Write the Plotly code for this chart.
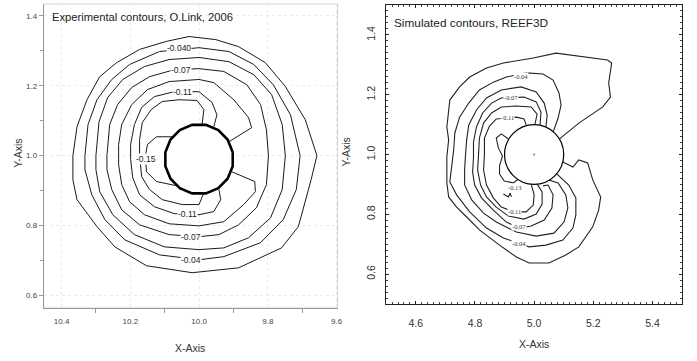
import plotly.graph_objects as go

# ================= LEFT PANEL: experimental contours (O.Link, 2006) =================
# closed rings (outer -> inner)
exp_c1_x = [10.367, 10.355, 10.326, 10.289, 10.240, 10.173, 10.095, 10.029, 9.951, 9.885, 9.807, 9.749, 9.691, 9.657,
            9.674, 9.711, 9.760, 9.885, 10.020, 10.153, 10.245, 10.297, 10.355, 10.367]
exp_c1_y = [1.000, 1.083, 1.160, 1.226, 1.266, 1.304, 1.327, 1.341, 1.332, 1.312, 1.266, 1.198, 1.103, 1.000,
            0.931, 0.797, 0.736, 0.679, 0.665, 0.685, 0.739, 0.797, 0.874, 0.931]
exp_c2_x = [10.332, 10.323, 10.297, 10.254, 10.202, 10.115, 10.000, 9.913, 9.841, 9.784, 9.734, 9.706, 9.717, 9.755,
            9.821, 9.928, 10.000, 10.115, 10.216, 10.274, 10.312, 10.332]
exp_c2_y = [1.000, 1.089, 1.160, 1.218, 1.261, 1.298, 1.309, 1.298, 1.261, 1.203, 1.117, 1.000, 0.903, 0.817,
            0.751, 0.711, 0.702, 0.716, 0.759, 0.817, 0.888, 0.960]
exp_c3_x = [10.300, 10.291, 10.266, 10.222, 10.159, 10.087, 10.000, 9.913, 9.841, 9.789, 9.758, 9.749, 9.758, 9.792,
            9.856, 9.928, 10.000, 10.101, 10.188, 10.251, 10.289, 10.300]
exp_c3_y = [1.000, 1.097, 1.166, 1.218, 1.255, 1.275, 1.281, 1.269, 1.232, 1.175, 1.089, 1.000, 0.903, 0.822,
            0.765, 0.736, 0.731, 0.739, 0.774, 0.831, 0.897, 0.960]
exp_c4_x = [10.268, 10.260, 10.237, 10.196, 10.144, 10.072, 10.000, 9.928, 9.861, 9.821, 9.804, 9.798, 9.804, 9.833,
            9.885, 9.942, 10.000, 10.087, 10.173, 10.225, 10.254, 10.268]
exp_c4_y = [1.000, 1.089, 1.146, 1.195, 1.226, 1.246, 1.249, 1.241, 1.203, 1.146, 1.074, 1.000, 0.917, 0.851,
            0.802, 0.774, 0.768, 0.774, 0.802, 0.845, 0.903, 0.960]
# open contours ending on the cylinder
exp_c5_x = [9.913, 9.847, 9.856, 9.899, 9.957, 10.000, 10.087, 10.150, 10.196, 10.225, 10.234, 10.234, 10.225, 10.202,
            10.159, 10.087, 10.000, 9.928, 9.870, 9.836, 9.838, 9.905]
exp_c5_y = [1.040, 1.080, 1.109, 1.160, 1.209, 1.218, 1.212, 1.189, 1.146, 1.089, 1.032, 0.974, 0.917, 0.868,
            0.831, 0.805, 0.799, 0.811, 0.860, 0.897, 0.926, 0.954]
exp_c6_x = [9.957, 9.948, 9.962, 10.000, 10.072, 10.130, 10.167, 10.188, 10.199, 10.199, 10.193, 10.173, 10.130, 10.072,
            10.000, 9.957, 9.937, 9.942]
exp_c6_y = [1.083, 1.117, 1.152, 1.183, 1.183, 1.169, 1.138, 1.089, 1.032, 0.989, 0.937, 0.888, 0.854, 0.834,
            0.831, 0.840, 0.874, 0.903]
exp_c7_x = [9.991, 9.986, 10.006, 10.058, 10.107, 10.139, 10.165, 10.173, 10.173, 10.167, 10.144, 10.107, 10.049,
            10.000, 9.986]
exp_c7_y = [1.089, 1.132, 1.158, 1.160, 1.155, 1.132, 1.095, 1.046, 1.000, 0.940, 0.903, 0.874, 0.860, 0.860, 0.894]
exp_c8_x = [10.078, 10.124, 10.150, 10.156, 10.153, 10.124, 10.066]
exp_c8_y = [1.054, 1.054, 1.032, 1.000, 0.954, 0.926, 0.914]

exp_closed = [(exp_c1_x, exp_c1_y), (exp_c2_x, exp_c2_y), (exp_c3_x, exp_c3_y), (exp_c4_x, exp_c4_y)]
exp_open = [(exp_c5_x, exp_c5_y), (exp_c6_x, exp_c6_y), (exp_c7_x, exp_c7_y), (exp_c8_x, exp_c8_y)]

# polygonal cylinder outline
exp_cyl_x = [9.902, 9.917, 9.944, 9.980, 10.020, 10.056, 10.083, 10.098, 10.098, 10.083, 10.056, 10.020, 9.980,
             9.944, 9.917, 9.902]
exp_cyl_y = [1.010, 1.046, 1.073, 1.088, 1.088, 1.073, 1.046, 1.010, 0.970, 0.934, 0.907, 0.892, 0.892, 0.907,
             0.934, 0.970]

exp_label_text = ["-0.040", "-0.07", "-0.11", "-0.15", "-0.11", "-0.07", "-0.04"]
exp_label_x = [10.058, 10.052, 10.049, 10.153, 10.035, 10.023, 10.023]
exp_label_y = [1.309, 1.244, 1.183, 0.989, 0.834, 0.768, 0.702]

exp_xticks = [10.4, 10.2, 10.0, 9.8, 9.6]
exp_xminor = [10.3, 10.1, 9.9, 9.7]
exp_yticks = [0.6, 0.8, 1.0, 1.2, 1.4]
exp_yminor = [0.7, 0.9, 1.1, 1.3]

# ================= RIGHT PANEL: simulated contours (REEF3D) =================
sim_cA_x = [5.086, 5.151, 5.232, 5.258, 5.252, 5.262, 5.248, 5.164, 5.074, 4.997, 4.950, 4.896, 4.839, 4.782, 4.748,
            4.715, 4.705, 4.711, 4.705, 4.705, 4.711, 4.738, 4.772, 4.815, 4.883, 4.940, 4.983, 5.050, 5.107, 5.151,
            5.198, 5.218, 5.225, 5.198, 5.181, 5.151, 5.131, 5.097]
sim_cA_y = [1.052, 1.105, 1.159, 1.192, 1.239, 1.306, 1.316, 1.326, 1.339, 1.323, 1.316, 1.306, 1.289, 1.259, 1.226,
            1.182, 1.092, 1.049, 0.992, 0.905, 0.858, 0.824, 0.791, 0.748, 0.697, 0.657, 0.637, 0.637, 0.664, 0.691,
            0.758, 0.814, 0.858, 0.915, 0.972, 0.982, 0.958, 0.975]
sim_cB_x = [5.064, 5.081, 5.091, 5.084, 5.064, 5.030, 4.973, 4.906, 4.862, 4.815, 4.779, 4.748, 4.732, 4.728, 4.721,
            4.715, 4.738, 4.782, 4.839, 4.896, 4.983, 5.040, 5.097, 5.131, 5.141, 5.141, 5.117, 5.074]
sim_cB_y = [1.075, 1.122, 1.166, 1.206, 1.249, 1.269, 1.273, 1.259, 1.242, 1.216, 1.172, 1.125, 1.072, 1.015, 0.958,
            0.908, 0.865, 0.808, 0.754, 0.721, 0.691, 0.697, 0.714, 0.754, 0.798, 0.855, 0.898, 0.938]
sim_cC_x = [5.040, 5.044, 5.034, 5.007, 4.956, 4.889, 4.839, 4.805, 4.779, 4.772, 4.768, 4.765, 4.765, 4.789, 4.829,
            4.872, 4.940, 5.007, 5.067, 5.101, 5.114, 5.107, 5.081, 5.050]
sim_cC_y = [1.092, 1.132, 1.172, 1.209, 1.226, 1.216, 1.189, 1.149, 1.099, 1.049, 0.998, 0.948, 0.898, 0.848, 0.804,
            0.774, 0.741, 0.727, 0.737, 0.774, 0.821, 0.865, 0.905, 0.915]
sim_cD_x = [5.020, 5.023, 5.007, 4.966, 4.889, 4.856, 4.826, 4.805, 4.795, 4.795, 4.792, 4.799, 4.822, 4.862, 4.906,
            4.950, 4.990, 5.034, 5.060, 5.064, 5.047, 5.030]
sim_cD_y = [1.099, 1.142, 1.176, 1.192, 1.189, 1.172, 1.139, 1.092, 1.042, 0.989, 0.941, 0.898, 0.855, 0.814, 0.774,
            0.754, 0.761, 0.781, 0.821, 0.865, 0.898, 0.895]
sim_cE_x = [5.003, 5.010, 4.990, 4.940, 4.889, 4.856, 4.829, 4.815, 4.812, 4.809, 4.819, 4.839, 4.872, 4.913, 4.966,
            5.007, 5.027, 5.027, 5.010]
sim_cE_y = [1.102, 1.135, 1.159, 1.162, 1.159, 1.139, 1.105, 1.055, 0.998, 0.948, 0.898, 0.858, 0.824, 0.794, 0.784,
            0.801, 0.834, 0.875, 0.901]
sim_cF_x = [4.973, 4.966, 4.940, 4.872, 4.849, 4.832, 4.832, 4.829, 4.839, 4.862, 4.889, 4.933, 4.973, 4.997, 5.000,
            4.990]
sim_cF_y = [1.099, 1.119, 1.125, 1.119, 1.095, 1.055, 0.998, 0.948, 0.898, 0.855, 0.824, 0.808, 0.808, 0.831, 0.865,
            0.901]
sim_cG_x = [4.913, 4.889, 4.872, 4.879, 4.893, 4.883, 4.883, 4.899, 4.930, 4.946]
sim_cG_y = [1.052, 1.069, 1.055, 1.022, 0.995, 0.962, 0.935, 0.911, 0.905, 0.918]
sim_cV_x = [4.896, 4.913, 4.919, 4.923]
sim_cV_y = [0.868, 0.858, 0.871, 0.858]

sim_lines = [(sim_cA_x, sim_cA_y), (sim_cB_x, sim_cB_y), (sim_cC_x, sim_cC_y), (sim_cD_x, sim_cD_y),
             (sim_cE_x, sim_cE_y), (sim_cF_x, sim_cF_y), (sim_cG_x, sim_cG_y), (sim_cV_x, sim_cV_y)]

sim_cyl_center = (5.0, 1.0)
sim_cyl_radius = 0.1

sim_label_text = ["-0.04", "-0.07", "-0.11", "-0.13", "-0.11", "-0.07", "-0.04"]
sim_label_x = [4.956, 4.923, 4.909, 4.936, 4.933, 4.950, 4.950]
sim_label_y = [1.262, 1.192, 1.125, 0.888, 0.808, 0.758, 0.701]

sim_xticks = [4.6, 4.8, 5.0, 5.2, 5.4]
sim_yticks = [0.6, 0.8, 1.0, 1.2, 1.4]

W, H = 697, 361
SANS = "Liberation Sans, Arial, Helvetica, sans-serif"
SERIF = "Liberation Serif, Times New Roman, serif"

fig = go.Figure()

for xs, ys in exp_closed:
    fig.add_trace(go.Scatter(x=xs + xs[:1], y=ys + ys[:1], mode="lines",
                             line=dict(color="#1a1a1a", width=1), xaxis="x", yaxis="y", hoverinfo="skip"))
for xs, ys in exp_open:
    fig.add_trace(go.Scatter(x=xs, y=ys, mode="lines",
                             line=dict(color="#1a1a1a", width=1), xaxis="x", yaxis="y", hoverinfo="skip"))
fig.add_trace(go.Scatter(x=exp_cyl_x + exp_cyl_x[:1], y=exp_cyl_y + exp_cyl_y[:1], mode="lines",
                         fill="toself", fillcolor="white",
                         line=dict(color="black", width=2.6), xaxis="x", yaxis="y", hoverinfo="skip"))

for xs, ys in sim_lines:
    fig.add_trace(go.Scatter(x=xs, y=ys, mode="lines",
                             line=dict(color="#222222", width=1.1), xaxis="x2", yaxis="y2", hoverinfo="skip"))
fig.add_trace(go.Scatter(x=[sim_cyl_center[0]], y=[sim_cyl_center[1]], mode="markers",
                         marker=dict(size=2, color="#777"), xaxis="x2", yaxis="y2", hoverinfo="skip"))

shapes = [
    dict(type="rect", xref="x domain", yref="y domain", x0=0, x1=1, y0=0, y1=1,
         line=dict(color="#d2d2d2", width=1), layer="below"),
    dict(type="circle", xref="x2", yref="y2",
         x0=sim_cyl_center[0] - sim_cyl_radius, x1=sim_cyl_center[0] + sim_cyl_radius,
         y0=sim_cyl_center[1] - sim_cyl_radius, y1=sim_cyl_center[1] + sim_cyl_radius,
         fillcolor="white", line=dict(color="black", width=1.2), layer="below"),
]

annotations = []
for t, x, y in zip(exp_label_text, exp_label_x, exp_label_y):
    annotations.append(dict(text=t, x=x, y=y, xref="x", yref="y", showarrow=False,
                            font=dict(family=SANS, size=8.5, color="#222"),
                            bgcolor="white", borderpad=0))
for t, x, y in zip(sim_label_text, sim_label_x, sim_label_y):
    annotations.append(dict(text=t, x=x, y=y, xref="x2", yref="y2", showarrow=False,
                            font=dict(family=SERIF, size=6.5, color="#333"),
                            bgcolor="white", borderpad=0))

def P(px, py):
    return px / W, 1 - py / H

tx, ty = P(50, 17)
annotations.append(dict(text="Experimental contours, O.Link, 2006", x=tx, y=ty, xref="paper", yref="paper",
                        xanchor="left", yanchor="middle", showarrow=False,
                        font=dict(family=SANS, size=11.2, color="#222")))
tx, ty = P(395, 23)
annotations.append(dict(text="Simulated contours, REEF3D", x=tx, y=ty, xref="paper", yref="paper",
                        xanchor="left", yanchor="middle", showarrow=False,
                        font=dict(family=SANS, size=11.8, color="#222")))
for txt, px, py, ang in [("X-Axis", 191, 348, 0), ("Y-Axis", 18, 153, -90),
                         ("X-Axis", 538, 344, 0), ("Y-Axis", 348, 152, -90)]:
    ax_, ay_ = P(px, py)
    annotations.append(dict(text=txt, x=ax_, y=ay_, xref="paper", yref="paper", textangle=ang,
                            xanchor="center", yanchor="middle", showarrow=False,
                            font=dict(family=SANS, size=10.5, color="#333")))

fig.update_layout(
    width=W, height=H, margin=dict(l=0, r=0, t=0, b=0),
    paper_bgcolor="white", plot_bgcolor="white", showlegend=False,
    shapes=shapes, annotations=annotations,
    xaxis=dict(domain=[44 / W, 340 / W], range=[10.452, 9.597], anchor="y",
               tickmode="array", tickvals=exp_xticks, ticktext=[f"{v:.1f}" for v in exp_xticks],
               ticks="outside", ticklen=0, tickcolor="#999", showline=True, linecolor="#999", linewidth=1,
               ticklabelstandoff=5,
               showgrid=True, gridcolor="#ececec", griddash="dot", gridwidth=1, zeroline=False,
               tickfont=dict(family=SANS, size=8, color="#444"),
               minor=dict(tickvals=exp_xminor, ticks="outside", ticklen=4, tickcolor="#999", showgrid=False)),
    yaxis=dict(domain=[1 - 308 / H, 1 - 4 / H], range=[0.564, 1.434], anchor="x",
               tickmode="array", tickvals=exp_yticks, ticktext=[f"{v:.1f}" for v in exp_yticks],
               ticks="outside", ticklen=4, tickcolor="#999", showline=True, linecolor="#999", linewidth=1,
               showgrid=True, gridcolor="#ececec", griddash="dot", gridwidth=1, zeroline=False,
               tickfont=dict(family=SANS, size=8, color="#444"),
               minor=dict(tickvals=exp_yminor, ticks="outside", ticklen=3, tickcolor="#999", showgrid=False)),
    xaxis2=dict(domain=[389 / W, 687 / W], range=[4.5, 5.5], anchor="y2",
                tickmode="array", tickvals=sim_xticks, ticktext=[f"{v:.1f}" for v in sim_xticks],
                ticks="inside", ticklen=3, tickcolor="#222", showline=True, linecolor="#222", linewidth=1.3,
                mirror="ticks", showgrid=False, zeroline=False, ticklabelstandoff=9,
                tickfont=dict(family=SANS, size=10.5, color="#333"),
                minor=dict(dtick=0.02, tick0=0.5, ticks="inside", ticklen=2, tickcolor="#444", showgrid=False)),
    yaxis2=dict(domain=[1 - 304 / H, 1 - 5 / H], range=[0.5, 1.5], anchor="x2",
                tickmode="array", tickvals=sim_yticks, ticktext=[f"{v:.1f}" for v in sim_yticks],
                ticks="inside", ticklen=3, tickcolor="#222", showline=True, linecolor="#222", linewidth=1.3,
                mirror="ticks", showgrid=False, zeroline=False, tickangle=-90, ticklabelstandoff=6,
                tickfont=dict(family=SANS, size=10.5, color="#333"),
                minor=dict(dtick=0.02, tick0=0.5, ticks="inside", ticklen=2, tickcolor="#444", showgrid=False)),
)

fig.write_html("out.html")
